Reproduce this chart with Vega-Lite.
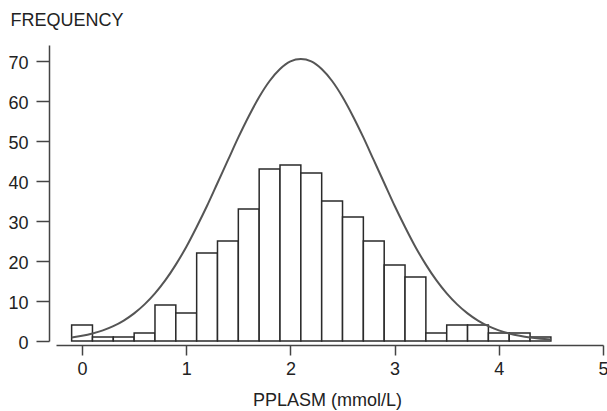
{
  "$schema": "https://vega.github.io/schema/vega-lite/v6.json",
  "autosize": {"type": "none"},
  "padding": {"left": 56, "top": 45, "right": 4, "bottom": 70},
  "width": 547,
  "height": 296,
  "background": "white",
  "config": {
    "view": {"stroke": null},
    "font": "Liberation Sans",
    "axis": {"grid": false, "domainColor": "#444", "tickColor": "#444", "domainWidth": 1.5, "tickWidth": 1.5, "labelColor": "#222", "titleColor": "#222", "labelFont": "Liberation Sans", "titleFont": "Liberation Sans", "labelFontSize": 18, "titleFontSize": 18, "titleFontWeight": "normal"}
  },
  "datasets": {
    "bars": [
      {"x0": -0.1, "x1": 0.1, "count": 4},
      {"x0": 0.1, "x1": 0.3, "count": 1},
      {"x0": 0.3, "x1": 0.5, "count": 1},
      {"x0": 0.5, "x1": 0.7, "count": 2},
      {"x0": 0.7, "x1": 0.9, "count": 9},
      {"x0": 0.9, "x1": 1.1, "count": 7},
      {"x0": 1.1, "x1": 1.3, "count": 22},
      {"x0": 1.3, "x1": 1.5, "count": 25},
      {"x0": 1.5, "x1": 1.7, "count": 33},
      {"x0": 1.7, "x1": 1.9, "count": 43},
      {"x0": 1.9, "x1": 2.1, "count": 44},
      {"x0": 2.1, "x1": 2.3, "count": 42},
      {"x0": 2.3, "x1": 2.5, "count": 35},
      {"x0": 2.5, "x1": 2.7, "count": 31},
      {"x0": 2.7, "x1": 2.9, "count": 25},
      {"x0": 2.9, "x1": 3.1, "count": 19},
      {"x0": 3.1, "x1": 3.3, "count": 16},
      {"x0": 3.3, "x1": 3.5, "count": 2},
      {"x0": 3.5, "x1": 3.7, "count": 4},
      {"x0": 3.7, "x1": 3.9, "count": 4},
      {"x0": 3.9, "x1": 4.1, "count": 2},
      {"x0": 4.1, "x1": 4.3, "count": 2},
      {"x0": 4.3, "x1": 4.5, "count": 1}
    ],
    "curve": [
      {"x": -0.1, "y": 0.87},
      {"x": 0.0, "y": 1.3},
      {"x": 0.1, "y": 1.88},
      {"x": 0.2, "y": 2.65},
      {"x": 0.3, "y": 3.7},
      {"x": 0.4, "y": 5.1},
      {"x": 0.5, "y": 6.9},
      {"x": 0.6, "y": 9.15},
      {"x": 0.7, "y": 11.9},
      {"x": 0.8, "y": 15.2},
      {"x": 0.9, "y": 19.1},
      {"x": 1.0, "y": 23.5},
      {"x": 1.1, "y": 28.5},
      {"x": 1.2, "y": 33.8},
      {"x": 1.3, "y": 39.5},
      {"x": 1.4, "y": 45.2},
      {"x": 1.5, "y": 50.9},
      {"x": 1.6, "y": 56.2},
      {"x": 1.7, "y": 61.0},
      {"x": 1.8, "y": 65.0},
      {"x": 1.9, "y": 68.0},
      {"x": 2.0, "y": 69.9},
      {"x": 2.1, "y": 70.5},
      {"x": 2.2, "y": 69.9},
      {"x": 2.3, "y": 68.0},
      {"x": 2.4, "y": 65.0},
      {"x": 2.5, "y": 61.0},
      {"x": 2.6, "y": 56.2},
      {"x": 2.7, "y": 50.9},
      {"x": 2.8, "y": 45.2},
      {"x": 2.9, "y": 39.5},
      {"x": 3.0, "y": 33.8},
      {"x": 3.1, "y": 28.5},
      {"x": 3.2, "y": 23.5},
      {"x": 3.3, "y": 19.1},
      {"x": 3.4, "y": 15.2},
      {"x": 3.5, "y": 11.9},
      {"x": 3.6, "y": 9.15},
      {"x": 3.7, "y": 6.9},
      {"x": 3.8, "y": 5.1},
      {"x": 3.9, "y": 3.7},
      {"x": 4.0, "y": 2.65},
      {"x": 4.1, "y": 1.88},
      {"x": 4.2, "y": 1.3},
      {"x": 4.3, "y": 0.87},
      {"x": 4.4, "y": 0.58},
      {"x": 4.5, "y": 0.38}
    ]
  },
  "layer": [
    {
      "data": {"name": "bars"},
      "mark": {"type": "rect", "fill": "white", "stroke": "#2a2a2a", "strokeWidth": 1.5},
      "encoding": {
        "x": {"field": "x0", "type": "quantitative", "scale": {"domain": [-0.25, 5], "nice": false, "zero": false},
          "axis": {"values": [0, 1, 2, 3, 4, 5], "format": "d", "offset": 4, "tickSize": 10, "labelPadding": 19, "labelBaseline": "alphabetic", "labelFlush": false,
            "title": "PPLASM (mmol/L)", "titleX": 271, "titleY": 60, "titleAnchor": null, "titleAlign": "center", "titleBaseline": "alphabetic"}},
        "x2": {"field": "x1"},
        "y": {"field": "count", "type": "quantitative", "scale": {"domain": [0, 74], "nice": false},
          "axis": {"values": [0, 10, 20, 30, 40, 50, 60, 70], "format": "d", "offset": 7, "tickSize": 13, "labelPadding": 8, "labelOffset": 2, "labelFlush": false,
            "title": "FREQUENCY", "titleAngle": 0, "titleAlign": "left", "titleBaseline": "alphabetic", "titleX": -39, "titleY": -19.5, "titleAnchor": null}},
        "y2": {"datum": 0}
      }
    },
    {
      "data": {"name": "curve"},
      "mark": {"type": "line", "color": "#555", "strokeWidth": 2, "interpolate": "monotone"},
      "encoding": {
        "x": {"field": "x", "type": "quantitative"},
        "y": {"field": "y", "type": "quantitative"}
      }
    }
  ]
}
